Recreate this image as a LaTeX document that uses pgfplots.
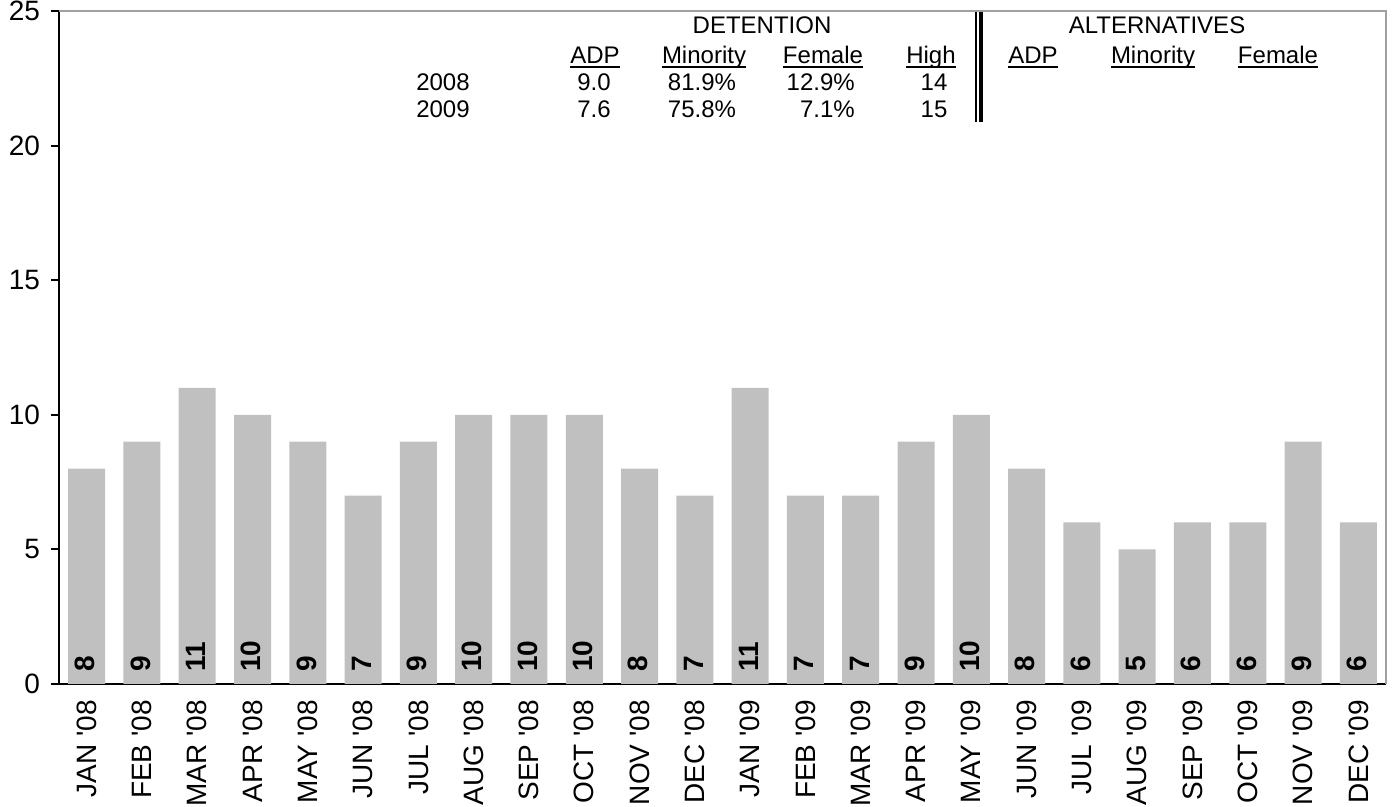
\documentclass[border=0pt]{standalone}
\usepackage{fontspec}
\setmainfont{Liberation Sans}
\usepackage{pgfplots}
\pgfplotsset{compat=1.18}
\definecolor{barfill}{HTML}{C0C0C0}
\definecolor{framegray}{HTML}{A0A0A0}
\newcommand\ul[1]{\setbox0\hbox{#1}\rlap{\rule[-3pt]{\wd0}{1.2pt}}\box0}
\newcommand\q{\textquotesingle}

\begin{document}
\begin{tikzpicture}
\useasboundingbox (0,0) rectangle (1044.75pt,605.25pt);
\begin{axis}[
  at={(44.25pt,92.25pt)}, anchor=south west,
  scale only axis, width=995.25pt, height=504.75pt,
  xmin=-0.5, xmax=23.5, ymin=0, ymax=25,
  ytick={0,5,...,25},
  xtick={0,...,23},
  xticklabels={JAN \q08, FEB \q08, MAR \q08, APR \q08, MAY \q08, JUN \q08,
    JUL \q08, AUG \q08, SEP \q08, OCT \q08, NOV \q08, DEC \q08,
    JAN \q09, FEB \q09, MAR \q09, APR \q09, MAY \q09, JUN \q09,
    JUL \q09, AUG \q09, SEP \q09, OCT \q09, NOV \q09, DEC \q09},
  axis x line*=bottom, axis y line*=left,
  axis line style={line width=1.5pt, black, -},
  tick align=outside, major tick length=6pt,
  ytick style={line width=1.5pt, black},
  xtick style={draw=none},
  /pgf/number format/assume math mode=true,
  tick label style={font=\fontsize{21}{24}\selectfont},
  yticklabel style={inner xsep=8pt},
  xticklabel style={rotate=90, anchor=east, inner xsep=6pt},
  ybar, bar width=27.75pt,
  visualization depends on=y \as \rawy,
  nodes near coords,
  nodes near coords style={shift={(axis direction cs:0,-\rawy)}, rotate=90,
    anchor=west, inner xsep=9pt, inner ysep=0pt, yshift=1pt,
    font=\fontsize{21}{24}\selectfont\bfseries},
]
\addplot[fill=barfill, draw=none] coordinates {
  (0,8) (1,9) (2,11) (3,10) (4,9) (5,7) (6,9) (7,10) (8,10) (9,10) (10,8) (11,7)
  (12,11) (13,7) (14,7) (15,9) (16,10) (17,8) (18,6) (19,5) (20,6) (21,6) (22,9) (23,6)};
\end{axis}
\begin{scope}[yshift=605.25pt, x=0.75pt, y=-0.75pt]
\draw[framegray, line width=1.5pt] (59,11) -- (1386,11) -- (1386,684);
\draw[line width=1.5pt] (976,12) -- (976,122);
\draw[line width=3pt] (980.5,12) -- (980.5,122);
\begin{scope}[every node/.style={font=\fontsize{18}{21}\selectfont, inner sep=0pt, anchor=base}]
  \node at (762,34) {DETENTION};
  \node at (595,64) {\ul{ADP}};
  \node at (704,64) {\ul{Minority}};
  \node at (823,64) {\ul{Female}};
  \node at (931,64) {\ul{High}};
  \node at (443,91) {2008};
  \node at (594,91) {9.0};
  \node at (702,91) {81.9\%};
  \node[anchor=base east] at (855,91) {12.9\%};
  \node at (934,91) {14};
  \node at (443,118) {2009};
  \node at (594,118) {7.6};
  \node at (702,118) {75.8\%};
  \node[anchor=base east] at (855,118) {7.1\%};
  \node at (934,118) {15};
  \node at (1157,34) {ALTERNATIVES};
  \node at (1033,64) {\ul{ADP}};
  \node at (1153,64) {\ul{Minority}};
  \node at (1278,64) {\ul{Female}};
\end{scope}
\end{scope}
\end{tikzpicture}
\end{document}
